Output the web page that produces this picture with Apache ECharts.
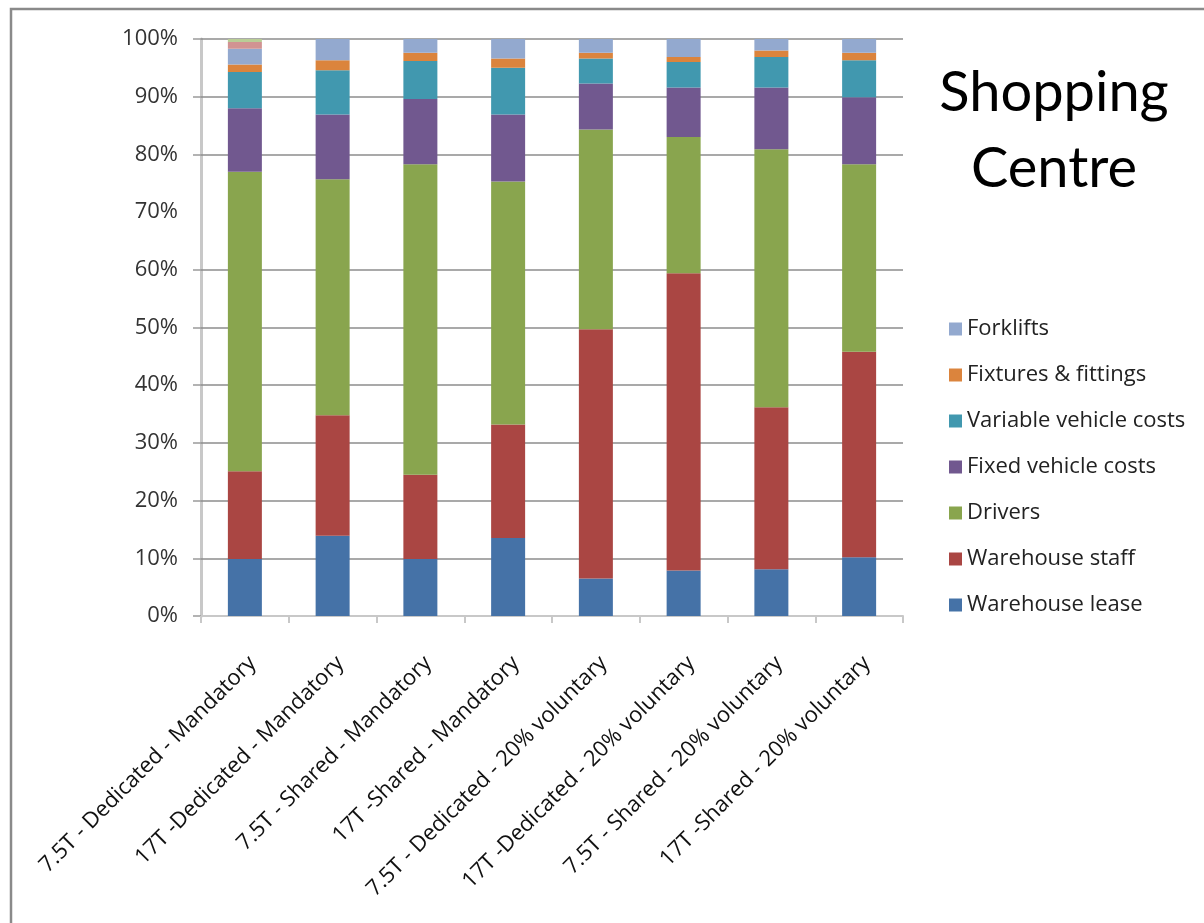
<!DOCTYPE html>
<html>
<head>
<meta charset="utf-8">
<title>Shopping Centre</title>
<script src="https://cdn.jsdelivr.net/npm/echarts@6/dist/echarts.min.js"></script>
<style>
  html, body { margin: 0; padding: 0; background: #ffffff; }
  #chart { width: 1204px; height: 923px; }
</style>
</head>
<body>
<div id="chart"></div>
<script>
// Delivery scenarios along the x axis
const categories = [
  '7.5T - Dedicated - Mandatory',
  '17T -Dedicated - Mandatory',
  '7.5T - Shared - Mandatory',
  '17T -Shared - Mandatory',
  '7.5T - Dedicated - 20% voluntary',
  '17T -Dedicated - 20% voluntary',
  '7.5T - Shared - 20% voluntary',
  '17T -Shared - 20% voluntary'
];

// Cost shares (% of total) per scenario, stacked bottom to top
const warehouseLease   = [9.9, 13.9, 9.9, 13.5, 6.5, 7.9, 8.1, 10.2];
const warehouseStaff   = [15.2, 20.9, 14.6, 19.7, 43.2, 51.5, 28.1, 35.6];
const drivers          = [51.9, 40.9, 53.8, 42.1, 34.6, 23.6, 44.7, 32.5];
const fixedVehicle     = [11.0, 11.2, 11.3, 11.6, 8.0, 8.6, 10.7, 11.6];
const variableVehicle  = [6.3, 7.7, 6.6, 8.1, 4.3, 4.4, 5.3, 6.4];
const fixtures         = [1.3, 1.7, 1.4, 1.6, 1.0, 0.9, 1.1, 1.3];
const forklifts        = [2.7, 3.7, 2.4, 3.4, 2.4, 3.1, 2.0, 2.4];
// Two small unlabelled components that only occur in the first scenario
const otherA           = [1.2, 0, 0, 0, 0, 0, 0, 0];
const otherB           = [0.5, 0, 0, 0, 0, 0, 0, 0];

// Horizontal grid lines and y ticks (the 70% line is not drawn)
const gridLevels = [10, 20, 30, 40, 50, 60, 80, 90, 100];
const tickLevels = [0, 10, 20, 30, 40, 50, 60, 80, 90, 100];

const legendOrder = [
  'Forklifts', 'Fixtures & fittings', 'Variable vehicle costs',
  'Fixed vehicle costs', 'Drivers', 'Warehouse staff', 'Warehouse lease'
];

const FONT = '"Open Sans", Lato, sans-serif';

function barSeries(name, data, color) {
  return {
    name: name,
    type: 'bar',
    stack: 'total',
    data: data,
    barWidth: 34,
    z: 3,
    itemStyle: { color: color },
    emphasis: { disabled: true }
  };
}

const chart = echarts.init(document.getElementById('chart'), null, { renderer: 'canvas' });

chart.setOption({
  animation: false,
  backgroundColor: '#ffffff',
  textStyle: { fontFamily: FONT },
  title: {
    text: 'Shopping\nCentre',
    left: 1049,
    top: 50,
    textAlign: 'center',
    textStyle: {
      fontFamily: 'Lato, sans-serif',
      fontSize: 56,
      fontWeight: 'normal',
      color: '#000000',
      lineHeight: 76
    }
  },
  legend: {
    orient: 'vertical',
    left: 944,
    top: 313,
    itemWidth: 13,
    itemHeight: 13,
    itemGap: 24,
    icon: 'rect',
    data: legendOrder,
    selectedMode: false,
    textStyle: {
      fontFamily: FONT,
      fontSize: 22,
      lineHeight: 22,
      color: '#222222'
    }
  },
  grid: {
    left: 201,
    right: 301,
    top: 39,
    bottom: 307,
    containLabel: false
  },
  xAxis: {
    type: 'category',
    data: categories,
    axisLine: { show: true, lineStyle: { color: '#c8c8c8', width: 2 } },
    axisTick: {
      show: true,
      alignWithLabel: false,
      length: 7,
      lineStyle: { color: '#c8c8c8', width: 2 }
    },
    axisLabel: {
      interval: 0,
      rotate: 45,
      margin: 36,
      verticalAlign: 'top',
      fontFamily: FONT,
      fontSize: 22,
      color: '#111111'
    }
  },
  yAxis: {
    type: 'value',
    min: 0,
    max: 100,
    interval: 10,
    axisLine: { show: true, lineStyle: { color: '#c8c8c8', width: 3 } },
    axisTick: {
      show: true,
      length: 8,
      customValues: tickLevels,
      lineStyle: { color: '#9a9a9a', width: 1.5 }
    },
    splitLine: { show: false },
    axisLabel: {
      formatter: '{value}%',
      margin: 23,
      fontFamily: FONT,
      fontSize: 22,
      color: '#333333'
    }
  },
  series: [
    {
      name: 'grid',
      type: 'line',
      data: [],
      z: 1,
      silent: true,
      markLine: {
        z: 1,
        silent: true,
        symbol: 'none',
        label: { show: false },
        lineStyle: { color: '#8c8c8c', width: 1.5, type: 'solid' },
        emphasis: { disabled: true },
        data: gridLevels.map(function (v) { return { yAxis: v }; })
      }
    },
    barSeries('Warehouse lease', warehouseLease, '#4572a7'),
    barSeries('Warehouse staff', warehouseStaff, '#aa4643'),
    barSeries('Drivers', drivers, '#89a54e'),
    barSeries('Fixed vehicle costs', fixedVehicle, '#71588f'),
    barSeries('Variable vehicle costs', variableVehicle, '#4198af'),
    barSeries('Fixtures & fittings', fixtures, '#db843d'),
    barSeries('Forklifts', forklifts, '#93a9cf'),
    barSeries('Other A', otherA, '#d19392'),
    barSeries('Other B', otherB, '#b9cd96')
  ],
  graphic: [
    {
      type: 'rect',
      shape: { x: 11, y: 9, width: 1250, height: 1000 },
      style: { fill: 'none', stroke: '#8a8a8a', lineWidth: 2.5 },
      silent: true,
      z: 100
    }
  ]
});
</script>
</body>
</html>
